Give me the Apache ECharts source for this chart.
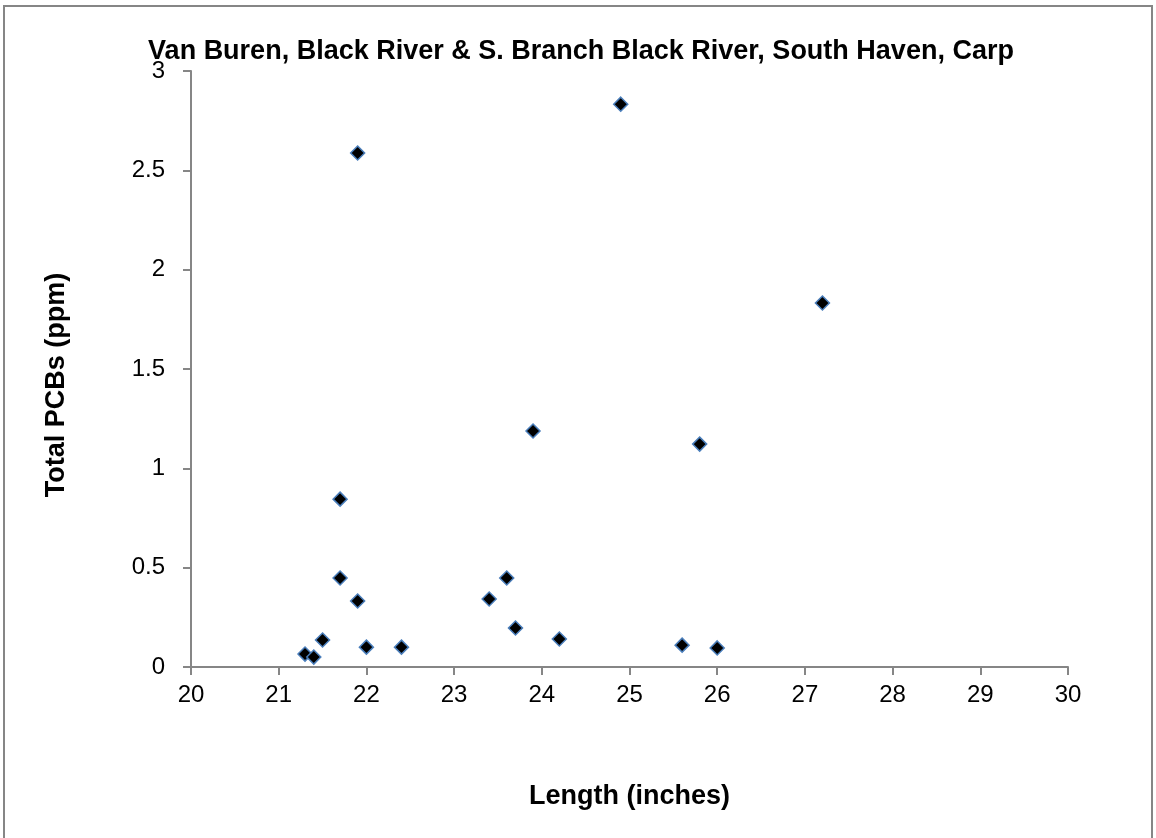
<!DOCTYPE html>
<html>
<head>
<meta charset="utf-8">
<script src="https://cdn.jsdelivr.net/npm/echarts@6/dist/echarts.min.js"></script>
<style>
html,body{margin:0;padding:0;background:#fff;}
#frame{position:absolute;left:3px;top:5px;width:1150px;height:840px;border:2px solid #868686;box-sizing:border-box;}
#c{position:absolute;left:0;top:0;width:1156px;height:838px;}
</style>
</head>
<body>
<div id="frame"></div>
<div id="c"></div>
<script>
const lengths = [21.3, 21.4, 21.5, 21.7, 21.7, 21.9, 21.9, 22.0, 22.4, 23.4, 23.6, 23.7, 23.9, 24.2, 24.9, 25.6, 25.8, 26.0, 27.2];
const pcbs    = [0.065, 0.05, 0.136, 0.845, 0.448, 2.587, 0.332, 0.10, 0.10, 0.342, 0.448, 0.196, 1.188, 0.141, 2.833, 0.11, 1.122, 0.096, 1.832];
const titleText = 'Van Buren, Black River & S. Branch Black River, South Haven, Carp';
const xName = 'Length (inches)';
const yName = 'Total PCBs (ppm)';

const font = '"Liberation Sans", Arial, sans-serif';
const chart = echarts.init(document.getElementById('c'));
chart.setOption({
  backgroundColor: 'transparent',
  animation: false,
  title: {
    text: titleText,
    left: 576, top: 33, textAlign: 'center',
    textStyle: {fontFamily: font, fontWeight: 'bold', fontSize: 27, color: '#000'}
  },
  grid: {left: 191, right: 88, top: 71, bottom: 171, containLabel: false},
  xAxis: {
    type: 'value', min: 20, max: 30, interval: 1,
    name: xName, nameLocation: 'middle', nameGap: 116,
    nameTextStyle: {fontFamily: font, fontWeight: 'bold', fontSize: 27, color: '#000'},
    axisLine: {show: true, lineStyle: {color: '#868686', width: 2}},
    axisTick: {show: true, inside: false, length: 8, lineStyle: {color: '#868686', width: 2}},
    axisLabel: {fontFamily: font, fontSize: 24, color: '#000', margin: 16},
    splitLine: {show: false}
  },
  yAxis: {
    type: 'value', min: 0, max: 3, interval: 0.5,
    name: yName, nameLocation: 'middle', nameGap: 121, nameRotate: 90,
    nameTextStyle: {fontFamily: font, fontWeight: 'bold', fontSize: 27, color: '#000', padding: [0, 32, 0, 0]},
    axisLine: {show: true, lineStyle: {color: '#868686', width: 2}},
    axisTick: {show: true, inside: false, length: 8, lineStyle: {color: '#868686', width: 2}},
    axisLabel: {fontFamily: font, fontSize: 24, color: '#000', margin: 26},
    splitLine: {show: false}
  },
  series: [{
    type: 'scatter',
    data: lengths.map((x, i) => [x, pcbs[i]]),
    symbol: 'diamond',
    symbolSize: 14,
    itemStyle: {color: '#000', borderColor: '#4a7ebb', borderWidth: 1.5, opacity: 1}
  }]
});
</script>
</body>
</html>
